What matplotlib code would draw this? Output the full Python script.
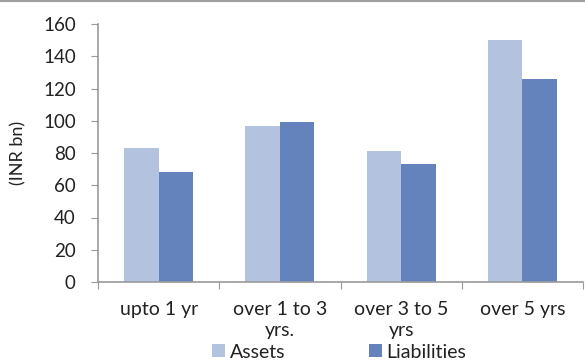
import matplotlib.pyplot as plt
import numpy as np

categories = ["upto 1 yr", "over 1 to 3\nyrs.", "over 3 to 5\nyrs", "over 5 yrs"]
assets = [83, 97, 81, 150]
liabilities = [68, 99, 73, 126]

plt.rcParams['font.family'] = ['Lato', 'DejaVu Sans']

fig = plt.figure(figsize=(5.85, 3.6), dpi=100)
ax = fig.add_axes([98 / 585, 1 - 282 / 360, 485 / 585, 258 / 360])

x = np.arange(len(categories))
w = 0.285
ax.bar(x - w / 2, assets, w, color="#b3c3df", label="Assets")
ax.bar(x + w / 2, liabilities, w, color="#6483bd", label="Liabilities")

ax.set_xlim(-0.5, len(categories) - 0.5)
ax.set_ylim(0, 160)
ax.set_yticks(range(0, 161, 20))
ax.set_xticks(np.arange(-0.5, len(categories), 1.0))
ax.set_xticklabels([])
ax.set_xticks(x, minor=True)
ax.set_xticklabels(categories, minor=True, fontsize=14, color="#222222", linespacing=1.25)
ax.tick_params(axis="x", which="minor", length=0, pad=14)
ax.tick_params(axis="x", which="major", length=5, color="#999999")
ax.tick_params(axis="y", length=5, color="#999999", labelsize=13.5, labelcolor="#222222", pad=11)

for s in ["top", "right"]:
    ax.spines[s].set_visible(False)
for s in ["left", "bottom"]:
    ax.spines[s].set_color("#999999")
    ax.spines[s].set_linewidth(1.2)

ax.set_ylabel("(INR bn)", fontsize=13, color="#222222", labelpad=12)

fig.legend(loc="lower center", bbox_to_anchor=(0.58, -0.05), ncol=2, frameon=False,
           fontsize=14, handlelength=0.65, handleheight=0.65, handletextpad=0.25,
           columnspacing=4.3, labelcolor="#222222")

# thin border along the top of the chart area
fig.add_artist(plt.Line2D([0, 1], [0.996, 0.996], color="#a0a0a0", lw=1.5))

fig.savefig("out.png", dpi=100, facecolor="white")
